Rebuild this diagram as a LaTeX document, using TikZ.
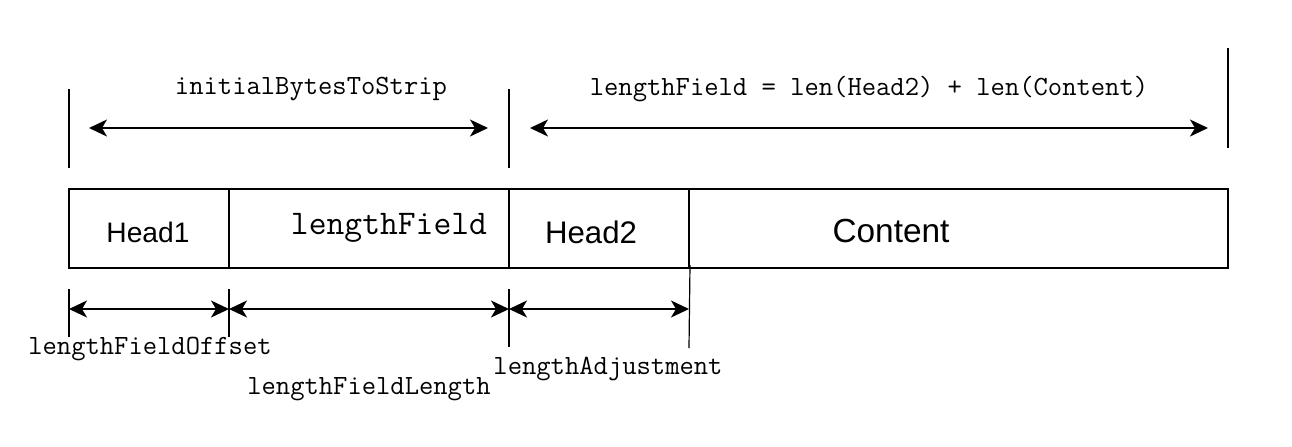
\documentclass[tikz,border=0pt]{standalone}
\usepackage{fontspec}
\setmainfont{Liberation Sans}
\usetikzlibrary{positioning,arrows.meta}

\begin{document}
\begin{tikzpicture}[
  x=0.5pt, y=-0.5pt,
  field/.style={draw, line width=1pt, minimum height=39.5pt, inner sep=0pt, outer sep=0pt},
  tickline/.style={line width=1pt},
  dim/.style={{Stealth[length=9pt,width=8.5pt,inset=2.5pt]}-{Stealth[length=9pt,width=8.5pt,inset=2.5pt]}, line width=1pt},
  mono/.style={font=\ttfamily\fontsize{13.9}{16}\selectfont},
  sans/.style={font=\fontsize{#1}{18}\selectfont}
]
\useasboundingbox (0,0) rectangle (1292,446);
% frame fields
\node[field, minimum width=80pt] (head1) at (149,228.5) {};
\node[field, minimum width=140pt] (lenf) at (369,228.5) {};
\node[field, minimum width=90pt] (head2) at (599,228.5) {};
\node[field, minimum width=269.5pt] (content) at (958.5,228.5) {};
\node[sans=14.1] (thead1) at (148,232) {Head1};
\node[font=\ttfamily\fontsize{17.3}{20}\selectfont] (tlenf) at (389,228) {lengthField};
\node[sans=15.6] (thead2) at (591,232) {Head2};
\node[sans=16.7] (tcontent) at (891,231) {Content};
% top ticks
\coordinate (ta1) at (69,89);   \coordinate (tb1) at (69,168);
\coordinate (ta2) at (509,89);  \coordinate (tb2) at (509,168);
\coordinate (ta3) at (1228,48); \coordinate (tb3) at (1228,148);
\draw[tickline] (ta1) -- (tb1);
\draw[tickline] (ta2) -- (tb2);
\draw[tickline] (ta3) -- (tb3);
\coordinate (s1) at (89,128);  \coordinate (e1) at (488,128);
\coordinate (s2) at (530,128); \coordinate (e2) at (1208,128);
\draw[dim] (s1) -- (e1);
\draw[dim] (s2) -- (e2);
\node[mono] (strip) at (311,89) {initialBytesToStrip};
\node[mono] (formula) at (869,89) {lengthField = len(Head2) + len(Content)};
% bottom ticks
\coordinate (ba1) at (69,289);  \coordinate (bb1) at (69,337);
\coordinate (ba2) at (229,289); \coordinate (bb2) at (229,337);
\coordinate (ba3) at (509,289); \coordinate (bb3) at (509,347);
\coordinate (ba4) at (690,265); \coordinate (bb4) at (689,348);
\draw[tickline] (ba1) -- (bb1);
\draw[tickline] (ba2) -- (bb2);
\draw[tickline] (ba3) -- (bb3);
\draw[line width=0.6pt] (ba4) -- (bb4);
\coordinate (m1) at (69,309);  \coordinate (m2) at (229,309);
\coordinate (m3) at (509,309); \coordinate (m4) at (689,309);
\draw[dim] (m1) -- (m2);
\draw[dim] (m2) -- (m3);
\draw[dim] (m3) -- (m4);
\node[mono] (offset) at (150,349) {lengthFieldOffset};
\node[mono] (flen) at (369,389) {lengthFieldLength};
\node[mono] (adjust) at (608,369) {lengthAdjustment};
\end{tikzpicture}
\end{document}
